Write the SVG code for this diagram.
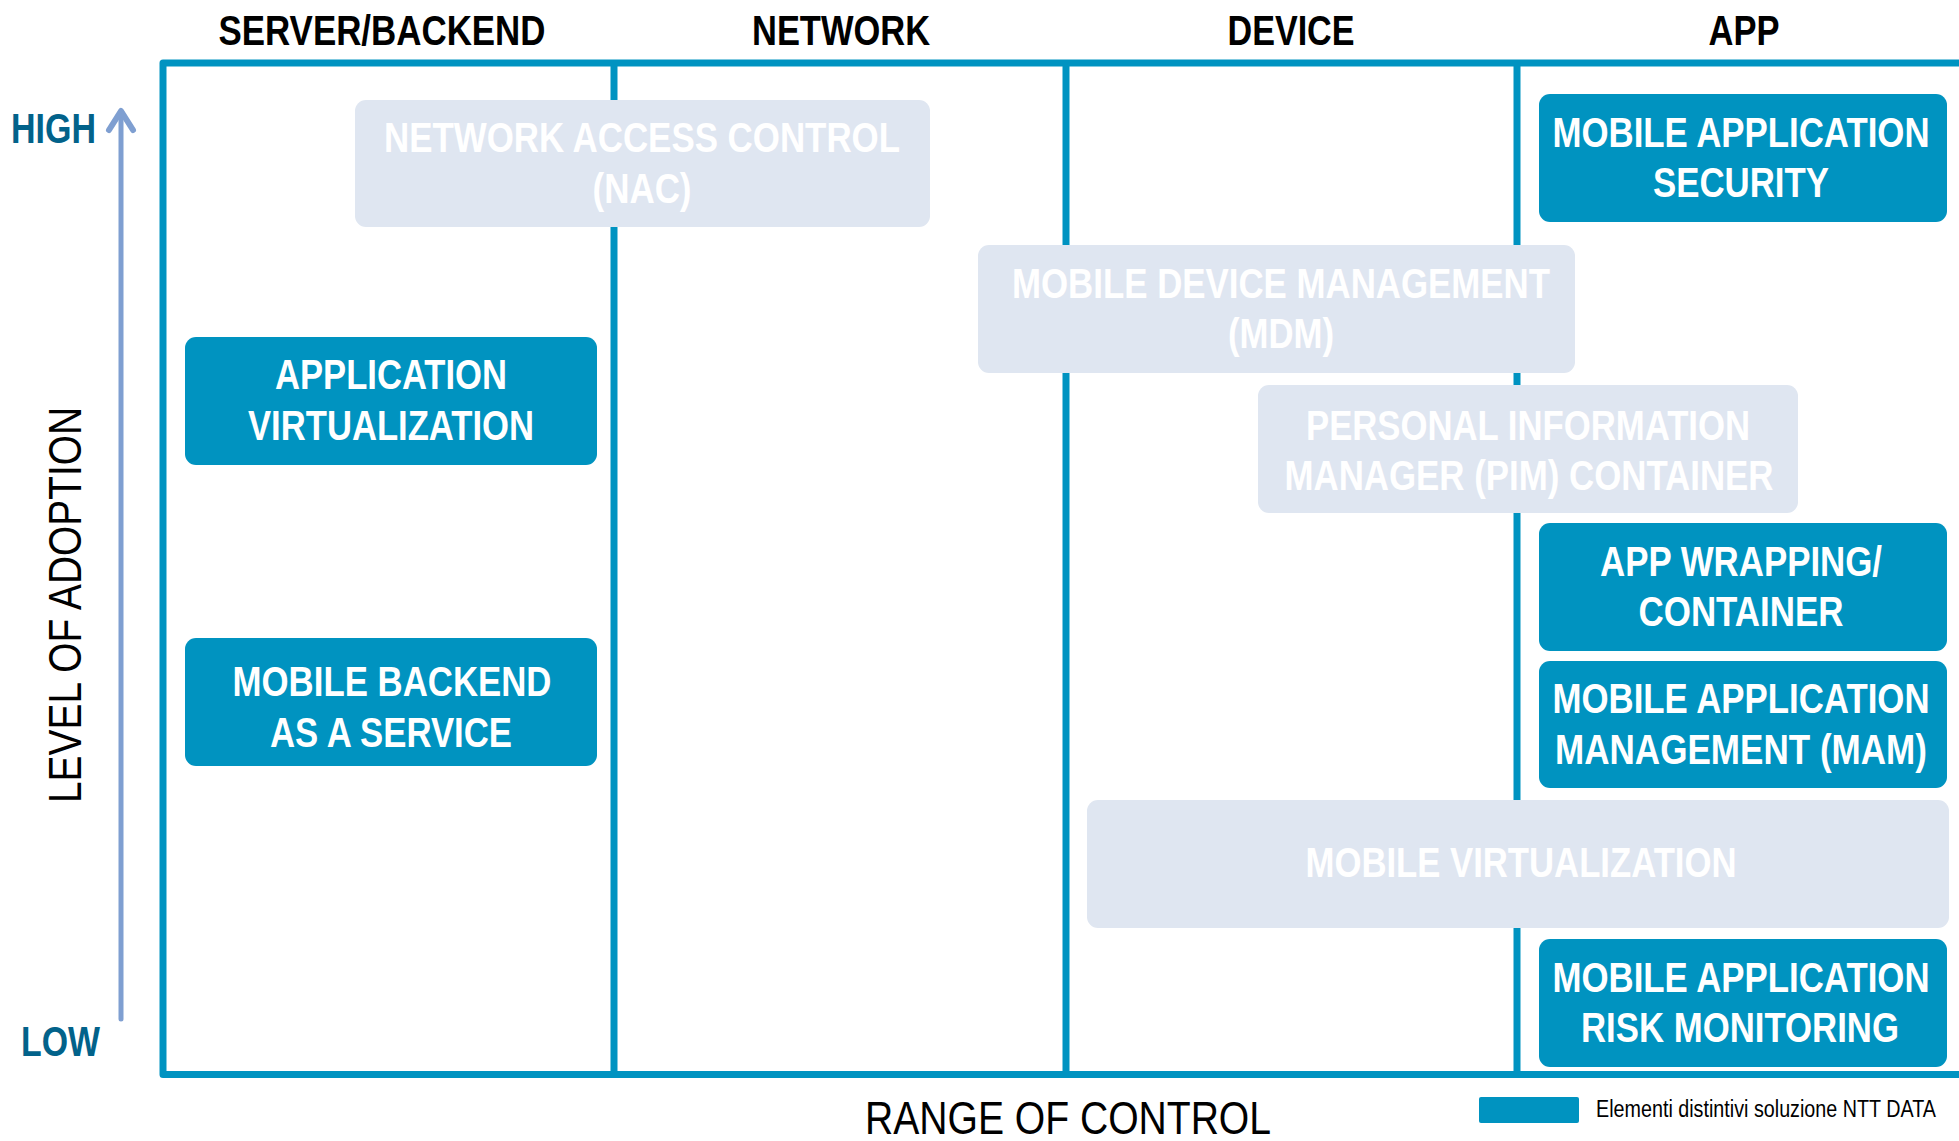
<svg xmlns="http://www.w3.org/2000/svg" width="1959" height="1141" viewBox="0 0 1959 1141">
  <style>
    .hdr { font-family: "Liberation Sans", Arial, sans-serif; font-weight: bold; font-size: 43px; fill: #000; text-anchor: middle; }
    .lvl { font-family: "Liberation Sans", Arial, sans-serif; font-weight: bold; font-size: 42px; fill: #02628A; text-anchor: middle; }
    .axis { font-family: "Liberation Sans", Arial, sans-serif; font-size: 46px; fill: #000; text-anchor: middle; }
    .dark rect { fill: #0093C0; }
    .light rect { fill: #DFE6F1; }
    .node text { font-family: "Liberation Sans", Arial, sans-serif; font-weight: bold; font-size: 43px; fill: #FFFFFF; text-anchor: middle; }
    .grid { fill: none; stroke: #0093C1; stroke-width: 7; }
    .legend { font-family: "Liberation Sans", Arial, sans-serif; font-size: 24px; fill: #000; }
  </style>
  <rect width="1959" height="1141" fill="#FFFFFF"/>

  <!-- grid / frame -->
  <g id="frame" class="grid">
    <path d="M1959,63 H163 V1074.5 H1959" stroke-linejoin="round"/>
    <line x1="614" y1="63" x2="614" y2="1074"/>
    <line x1="1066" y1="63" x2="1066" y2="1074"/>
    <line x1="1517" y1="63" x2="1517" y2="1074"/>
  </g>

  <!-- column headers -->
  <g id="headers">
    <text class="hdr" x="0" y="45" transform="translate(382,0) scale(0.82,1)" textLength="398.8" lengthAdjust="spacingAndGlyphs">SERVER/BACKEND</text>
    <text class="hdr" x="0" y="45" transform="translate(841,0) scale(0.82,1)" textLength="217.1" lengthAdjust="spacingAndGlyphs">NETWORK</text>
    <text class="hdr" x="0" y="45" transform="translate(1291,0) scale(0.82,1)" textLength="154.9" lengthAdjust="spacingAndGlyphs">DEVICE</text>
    <text class="hdr" x="0" y="45" transform="translate(1744,0) scale(0.82,1)" textLength="86.6" lengthAdjust="spacingAndGlyphs">APP</text>
  </g>

  <!-- axes -->
  <g id="connectors">
    <g id="adoption-axis" stroke="#7F9FD1" fill="none" stroke-linecap="round" stroke-linejoin="round">
      <line x1="121" y1="1019" x2="121" y2="113" stroke-width="5"/>
      <polyline points="109,130 121,111 133,130" stroke-width="6"/>
    </g>
  </g>
  <g id="axis-labels">
    <text class="lvl" x="0" y="143" transform="translate(53.5,0) scale(0.82,1)" textLength="103.7" lengthAdjust="spacingAndGlyphs">HIGH</text>
    <text class="lvl" x="0" y="1056" transform="translate(60.5,0) scale(0.82,1)" textLength="96.3" lengthAdjust="spacingAndGlyphs">LOW</text>
    <text class="axis" x="0" y="0" font-size="50" textLength="396" lengthAdjust="spacingAndGlyphs" transform="translate(81,605) rotate(-90)">LEVEL OF ADOPTION</text>
    <text class="axis" x="0" y="1134" transform="translate(1068,0) scale(0.82,1)" textLength="495.1" lengthAdjust="spacingAndGlyphs">RANGE OF CONTROL</text>
  </g>

  <!-- nodes -->
  <g id="nac" class="node light">
    <rect x="355" y="100" width="575" height="127" rx="11"/>
    <text x="0" y="152.5" transform="translate(642,0) scale(0.82,1)" textLength="629.3" lengthAdjust="spacingAndGlyphs">NETWORK ACCESS CONTROL</text>
    <text x="0" y="203" transform="translate(642,0) scale(0.82,1)" textLength="120.7" lengthAdjust="spacingAndGlyphs">(NAC)</text>
  </g>
  <g id="mas" class="node dark">
    <rect x="1539" y="94" width="408" height="128" rx="11"/>
    <text x="0" y="147" transform="translate(1741,0) scale(0.82,1)" textLength="459.8" lengthAdjust="spacingAndGlyphs">MOBILE APPLICATION</text>
    <text x="0" y="197" transform="translate(1741,0) scale(0.82,1)" textLength="214.6" lengthAdjust="spacingAndGlyphs">SECURITY</text>
  </g>
  <g id="mdm" class="node light">
    <rect x="978" y="245" width="597" height="128" rx="11"/>
    <text x="0" y="298" transform="translate(1281,0) scale(0.82,1)" textLength="656.1" lengthAdjust="spacingAndGlyphs">MOBILE DEVICE MANAGEMENT</text>
    <text x="0" y="348" transform="translate(1281,0) scale(0.82,1)" textLength="129.3" lengthAdjust="spacingAndGlyphs">(MDM)</text>
  </g>
  <g id="app-virtualization" class="node dark">
    <rect x="185" y="337" width="412" height="128" rx="11"/>
    <text x="0" y="389" transform="translate(391,0) scale(0.82,1)" textLength="282.9" lengthAdjust="spacingAndGlyphs">APPLICATION</text>
    <text x="0" y="440" transform="translate(391,0) scale(0.82,1)" textLength="348.8" lengthAdjust="spacingAndGlyphs">VIRTUALIZATION</text>
  </g>
  <g id="pim" class="node light">
    <rect x="1258" y="385" width="540" height="128" rx="11"/>
    <text x="0" y="440" transform="translate(1528,0) scale(0.82,1)" textLength="541.5" lengthAdjust="spacingAndGlyphs">PERSONAL INFORMATION</text>
    <text x="0" y="490" transform="translate(1529,0) scale(0.82,1)" textLength="596.3" lengthAdjust="spacingAndGlyphs">MANAGER (PIM) CONTAINER</text>
  </g>
  <g id="app-wrapping" class="node dark">
    <rect x="1539" y="523" width="408" height="128" rx="11"/>
    <text x="0" y="576" transform="translate(1741,0) scale(0.82,1)" textLength="343.9" lengthAdjust="spacingAndGlyphs">APP WRAPPING/</text>
    <text x="0" y="626" transform="translate(1741,0) scale(0.82,1)" textLength="250" lengthAdjust="spacingAndGlyphs">CONTAINER</text>
  </g>
  <g id="mam" class="node dark">
    <rect x="1539" y="661" width="408" height="127" rx="11"/>
    <text x="0" y="713.5" transform="translate(1741,0) scale(0.82,1)" textLength="459.8" lengthAdjust="spacingAndGlyphs">MOBILE APPLICATION</text>
    <text x="0" y="764" transform="translate(1741,0) scale(0.82,1)" textLength="453.7" lengthAdjust="spacingAndGlyphs">MANAGEMENT (MAM)</text>
  </g>
  <g id="mbaas" class="node dark">
    <rect x="185" y="638" width="412" height="128" rx="11"/>
    <text x="0" y="696" transform="translate(392,0) scale(0.82,1)" textLength="389" lengthAdjust="spacingAndGlyphs">MOBILE BACKEND</text>
    <text x="0" y="747" transform="translate(391,0) scale(0.82,1)" textLength="295.1" lengthAdjust="spacingAndGlyphs">AS A SERVICE</text>
  </g>
  <g id="mobile-virtualization" class="node light">
    <rect x="1087" y="800" width="862" height="128" rx="11"/>
    <text x="0" y="877" transform="translate(1521,0) scale(0.82,1)" textLength="525.6" lengthAdjust="spacingAndGlyphs">MOBILE VIRTUALIZATION</text>
  </g>
  <g id="risk-monitoring" class="node dark">
    <rect x="1539" y="939" width="408" height="128" rx="11"/>
    <text x="0" y="992" transform="translate(1741,0) scale(0.82,1)" textLength="459.8" lengthAdjust="spacingAndGlyphs">MOBILE APPLICATION</text>
    <text x="0" y="1042" transform="translate(1740,0) scale(0.82,1)" textLength="387.8" lengthAdjust="spacingAndGlyphs">RISK MONITORING</text>
  </g>

  <!-- legend -->
  <g id="legend">
    <rect x="1479" y="1097" width="100" height="26" rx="2" fill="#0093C0"/>
    <text class="legend" x="0" y="1117" transform="translate(1596,0) scale(0.82,1)" textLength="414.6" lengthAdjust="spacingAndGlyphs">Elementi distintivi soluzione NTT DATA</text>
  </g>
</svg>
